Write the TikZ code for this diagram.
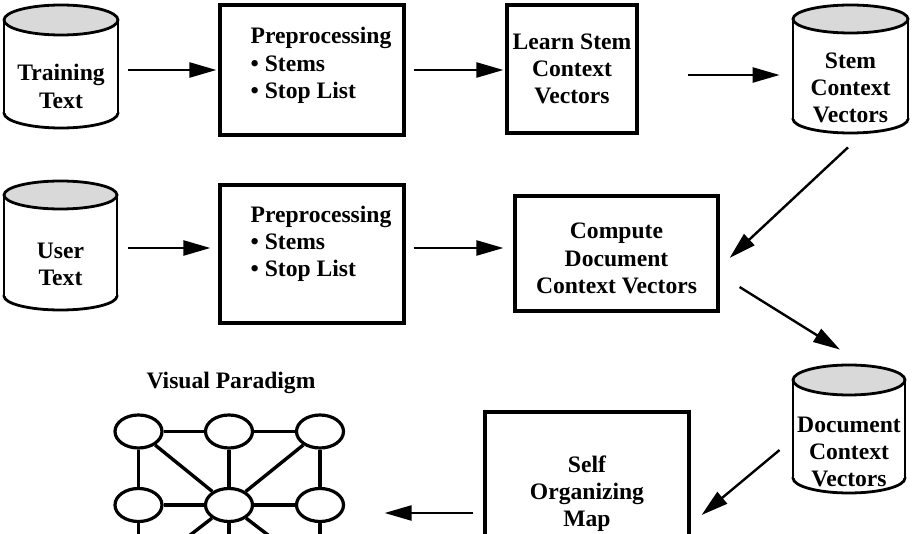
\documentclass[tikz,border=0pt]{standalone}
\usepackage{fontspec}
\setmainfont{Liberation Serif}
\usetikzlibrary{shapes.geometric,arrows.meta,calc}
\newcommand\drawcyl[5]{% cx, rx, top, bottom, ry (pixel units)
  \draw[cylline, fill=white] (#1,{#4-#5}) ellipse (#2 and #5);
  \fill[white] ({#1-#2},{#3+#5}) rectangle ({#1+#2},{#4-#5});
  \draw[cylline] ({#1-#2},{#3+#5}) -- ({#1-#2},{#4-#5+1}) ({#1+#2},{#3+#5}) -- ({#1+#2},{#4-#5+1});
  \draw[cylline, fill=gray!30] (#1,{#3+#5}) ellipse (#2 and #5);
}
\begin{document}
\begin{tikzpicture}[x=0.5pt,y=-0.5pt,
  font=\fontsize{11.8}{13.6}\selectfont\bfseries,
  cylline/.style={line width=1.4pt},
  box/.style={draw, line width=1.6pt, inner sep=0pt, align=center},
  cylarea/.style={inner sep=0pt},
  lbl/.style={inner sep=0pt, align=center},
  arr/.style={line width=1.2pt, -{Triangle[length=13.5pt,width=7.5pt]}},
  gnode/.style={ellipse, draw, line width=1.6pt, minimum width=23.5pt, minimum height=16.5pt, inner sep=0pt},
  gedge/.style={line width=1.7pt}]
\useasboundingbox (0,0) rectangle (912,534);
\clip (0,0) rectangle (912,534);

% cylinders
\drawcyl{61}{57}{5}{128}{15}
\node[cylarea, minimum width=57pt, minimum height=61.5pt] (tt) at (61,66.5) {};
\node[lbl] (ttl) at (61,86.5) {Training\\Text};

\drawcyl{60.5}{56.5}{181}{310}{14}
\node[cylarea, minimum width=56.5pt, minimum height=64.5pt] (ut) at (60.5,245.5) {};
\node[lbl] (utl) at (60.5,264) {User\\Text};

\drawcyl{850.5}{57.5}{5}{133}{14}
\node[cylarea, minimum width=57.5pt, minimum height=64pt] (scv) at (850.5,69) {};
\node[lbl] (scvl) at (850.5,88) {Stem\\Context\\Vectors};

\drawcyl{849}{56}{365}{493}{15}
\node[cylarea, minimum width=56pt, minimum height=64pt] (dcv) at (849,429) {};
\node[lbl] (dcvl) at (849,452) {Document\\Context\\Vectors};

% boxes
\node[box, minimum width=92pt, minimum height=65pt] (p1) at (312,70) {};
\node[lbl, align=left] (p1t) at (321,65.5) {Preprocessing\\\textbullet\ Stems\\\textbullet\ Stop List};

\node[box, minimum width=65pt, minimum height=64pt] (ls) at (572,69) {Learn Stem\\Context\\Vectors};

\node[box, minimum width=92pt, minimum height=69pt] (p2) at (312,254) {};
\node[lbl, align=left] (p2t) at (321,244) {Preprocessing\\\textbullet\ Stems\\\textbullet\ Stop List};

\node[box, minimum width=101.5pt, minimum height=57.5pt] (cd) at (616.5,253.5) {};
\node[lbl] (cdt) at (616.5,258.5) {Compute\\Document\\Context Vectors};

\node[box, minimum width=102pt, minimum height=82pt] (som) at (587,494) {Self\\Organizing\\Map};

% visual paradigm
\node[lbl] (vp) at (231,383) {Visual Paradigm};
\node[gnode] (e1) at (138.5,431.5) {};
\node[gnode] (e2) at (229,431.5) {};
\node[gnode] (e3) at (320,431.5) {};
\node[gnode] (e4) at (138.5,505) {};
\node[gnode] (e5) at (229,505) {};
\node[gnode] (e6) at (320,505) {};
\coordinate (r7) at (138.5,575);
\coordinate (r8) at (229,575);
\coordinate (r9) at (320,575);
\draw[gedge] (e1) -- (e2);
\draw[gedge] (e2) -- (e3);
\draw[gedge] (e1) -- (e4);
\draw[gedge] (e1) -- (e5);
\draw[gedge] (e2) -- (e5);
\draw[gedge] (e3) -- (e5);
\draw[gedge] (e3) -- (e6);
\draw[gedge] (e4) -- (e5);
\draw[gedge] (e5) -- (e6);
\draw[gedge] (e4) -- (r7);
\draw[gedge] (e5) -- (r7);
\draw[gedge] (e5) -- (r8);
\draw[gedge] (e5) -- (r9);
\draw[gedge] (e6) -- (r9);

% arrows
\draw[arr] ($(tt.east)+(10,3.5)$) -- ($(p1.west)+(-2,0)$);
\draw[arr] ($(p1.east)+(8,0)$) -- ($(ls.west)+(-2,1)$);
\draw[arr] ($(ls.east)+(49,6)$) -- ($(scv.west)+(-13,6)$);
\draw[arr] ($(scv.south)+(-2.5,14)$) -- ($(cd.east)+(10,4.5)$);
\draw[arr] ($(ut.east)+(11,2.5)$) -- ($(p2.west)+(-8,-6)$);
\draw[arr] ($(p2.east)+(8,-6)$) -- ($(cd.west)+(-10,-5.5)$);
\draw[arr] ($(cd.east)+(20,33.5)$) -- ($(dcv.north)+(-9,-15)$);
\draw[arr] ($(dcv.west)+(-13,21)$) -- ($(som.east)+(11,21)$);
\draw[arr] ($(som.west)+(-10,19)$) -- ($(e6.east)+(39.5,8)$);
\end{tikzpicture}
\end{document}
